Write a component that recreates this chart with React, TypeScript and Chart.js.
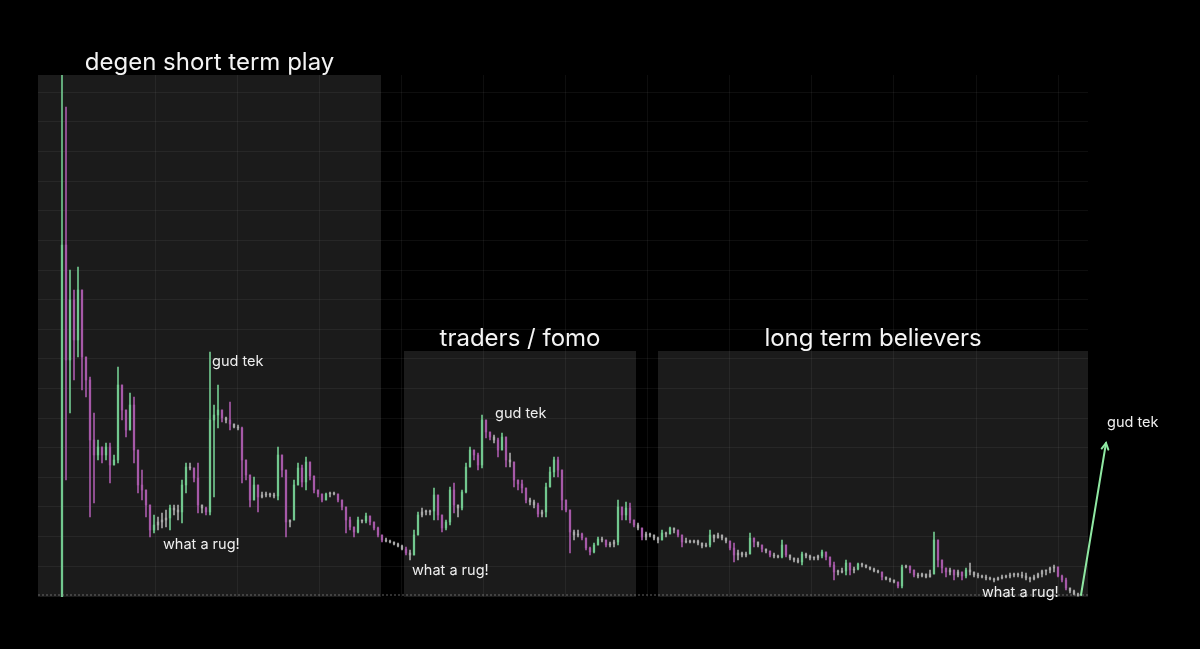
import React, { useEffect, useRef } from "react";
import { Chart, registerables } from "chart.js";

Chart.register(...registerables);

// ---- price data (one candle per period) ----
const highs: number[] = [
  52.2, 49.0, 32.7, 30.7, 33.0, 29.7, 23.7, 22.0, 18.4, 15.7,
  15.0, 15.4, 15.4, 14.2, 23.0, 21.0, 18.0, 20.4, 20.0, 13.7,
  12.7, 10.7, 8.7, 8.2, 8.0, 8.4, 8.7, 9.2, 9.2, 9.2,
  11.7, 13.4, 13.4, 12.9, 13.4, 9.2, 9.0, 24.5, 19.2, 21.2,
  18.2, 18.0, 19.5, 17.2, 17.2, 17.0, 13.4, 11.0, 12.0, 10.7,
  10.5, 10.5, 10.4, 10.4, 15.0, 13.7, 12.0, 7.7, 11.7, 13.4,
  13.2, 14.0, 13.0, 11.7, 10.7, 10.0, 10.4, 10.5, 10.5, 10.2,
  9.7, 8.4, 8.0, 7.0, 8.0, 7.7, 8.4, 7.9, 7.4, 7.0,
  6.0, 5.9, 5.7, 5.5, 5.4, 5.2, 5.0, 4.7, 6.7, 8.5,
  8.9, 8.7, 8.7, 10.9, 10.2, 8.0, 7.7, 11.0, 11.4, 9.0,
  10.7, 13.4, 15.0, 14.7, 14.4, 18.2, 17.7, 16.5, 16.2, 15.9,
  16.4, 15.7, 14.4, 13.4, 11.7, 11.7, 10.7, 9.9, 9.7, 9.4,
  8.7, 11.4, 13.0, 14.0, 14.0, 12.7, 9.0, 8.7, 6.7, 6.7,
  6.4, 5.7, 5.0, 5.4, 6.0, 6.0, 5.5, 5.5, 5.7, 9.7,
  9.0, 9.5, 9.4, 7.7, 7.4, 6.9, 6.5, 6.4, 6.2, 6.0,
  6.7, 6.5, 7.0, 6.9, 6.7, 5.9, 5.9, 5.7, 5.7, 5.7,
  5.4, 5.4, 6.7, 6.0, 6.4, 6.0, 5.9, 5.5, 5.4, 4.7,
  4.5, 4.5, 6.4, 5.9, 5.5, 5.0, 4.7, 4.5, 4.4, 4.2,
  5.7, 4.5, 4.0, 3.9, 3.9, 4.5, 4.4, 4.2, 4.0, 4.2,
  4.7, 4.4, 3.9, 3.5, 2.7, 2.9, 3.7, 2.9, 3.0, 3.4,
  3.4, 3.2, 3.0, 2.9, 2.7, 2.4, 2.0, 1.9, 1.7, 1.5,
  3.2, 3.2, 3.0, 2.7, 2.4, 2.4, 2.2, 2.7, 6.5, 5.7,
  3.7, 2.9, 2.9, 2.7, 2.7, 2.4, 2.9, 3.4, 2.5, 2.4,
  2.2, 2.2, 2.0, 1.9, 2.0, 2.2, 2.2, 2.4, 2.4, 2.4,
  2.5, 2.4, 2.0, 2.2, 2.4, 2.7, 2.7, 3.0, 3.2, 2.9,
  2.2, 1.9, 0.9, 0.7, 0.4,
];

const lows: number[] = [
  0.0, 11.7, 18.4, 21.7, 24.0, 20.7, 20.0, 8.0, 9.4, 13.7,
  13.4, 13.7, 11.4, 13.2, 13.4, 17.7, 16.0, 16.7, 13.4, 10.4,
  9.7, 8.0, 6.0, 6.4, 6.7, 6.9, 7.0, 6.7, 8.2, 7.7,
  7.4, 10.4, 12.7, 11.5, 8.4, 8.4, 8.2, 8.2, 10.0, 16.9,
  17.5, 17.4, 16.7, 16.9, 16.7, 11.4, 11.7, 9.0, 10.0, 8.5,
  9.9, 10.0, 10.0, 9.9, 9.7, 12.0, 6.0, 7.0, 7.7, 11.4,
  11.0, 10.7, 11.7, 10.4, 10.0, 9.5, 9.7, 10.0, 10.2, 9.5,
  8.7, 6.4, 6.7, 6.0, 6.4, 7.4, 7.4, 7.2, 6.7, 6.0,
  5.5, 5.5, 5.4, 5.2, 5.0, 4.7, 4.2, 3.7, 4.7, 6.4,
  8.0, 8.2, 8.2, 7.7, 7.7, 6.5, 6.7, 7.2, 8.4, 8.0,
  8.7, 10.4, 13.0, 13.7, 12.7, 12.9, 15.9, 15.7, 15.4, 14.0,
  14.7, 13.0, 13.0, 11.0, 10.7, 10.4, 9.4, 9.2, 8.9, 8.0,
  8.0, 8.0, 11.0, 12.0, 12.0, 8.7, 8.5, 4.4, 5.7, 6.0,
  5.7, 4.7, 4.2, 4.4, 5.4, 5.5, 5.0, 5.0, 5.0, 5.2,
  7.7, 7.7, 7.4, 7.0, 6.7, 5.7, 5.7, 6.0, 5.7, 5.4,
  5.7, 6.0, 6.4, 6.4, 6.0, 5.0, 5.4, 5.4, 5.4, 5.2,
  4.9, 5.0, 5.0, 5.5, 5.9, 5.7, 5.4, 4.7, 3.5, 3.7,
  4.0, 4.0, 4.4, 5.0, 5.0, 4.5, 4.4, 4.0, 3.9, 3.9,
  3.9, 4.0, 3.7, 3.5, 3.4, 3.2, 3.9, 3.7, 3.7, 3.7,
  3.9, 3.7, 3.0, 1.7, 2.2, 2.4, 2.2, 2.2, 2.4, 2.7,
  3.0, 2.9, 2.7, 2.5, 2.4, 1.7, 1.7, 1.5, 1.4, 0.9,
  0.9, 2.9, 2.4, 2.0, 1.9, 2.0, 1.9, 2.0, 2.4, 3.0,
  2.4, 2.0, 2.2, 1.7, 2.0, 1.7, 1.9, 2.2, 2.0, 1.9,
  1.9, 1.7, 1.7, 1.5, 1.7, 1.8, 1.9, 1.9, 2.0, 2.0,
  1.9, 1.7, 1.5, 1.7, 1.9, 2.0, 2.2, 2.4, 2.5, 2.0,
  1.5, 0.7, 0.4, 0.2, 0.1,
];

const closes: number[] = [
  35.2, 23.7, 29.7, 25.7, 30.7, 24.0, 21.7, 15.7, 14.2, 15.0,
  14.2, 15.0, 13.2, 13.7, 21.2, 18.7, 16.7, 19.2, 14.7, 11.2,
  10.7, 9.2, 6.7, 7.2, 7.5, 7.7, 7.9, 8.9, 8.7, 8.5,
  11.2, 13.0, 12.9, 11.9, 9.2, 8.9, 8.5, 17.7, 18.2, 18.7,
  17.9, 17.7, 17.3, 17.0, 16.9, 13.7, 12.2, 9.7, 11.2, 10.0,
  10.2, 10.3, 10.2, 10.1, 14.2, 12.7, 7.5, 7.7, 11.2, 12.9,
  11.5, 13.5, 12.1, 10.7, 10.3, 9.7, 10.3, 10.4, 10.3, 9.7,
  9.0, 7.7, 7.0, 6.5, 7.7, 7.6, 8.1, 7.5, 6.9, 6.2,
  5.7, 5.6, 5.5, 5.3, 5.1, 4.8, 4.4, 4.2, 6.2, 8.2,
  8.5, 8.5, 8.6, 10.2, 8.2, 6.9, 7.5, 10.7, 9.2, 8.9,
  10.5, 13.0, 14.7, 14.2, 13.2, 17.7, 16.5, 16.0, 15.7, 14.7,
  16.0, 13.7, 13.5, 11.7, 11.3, 10.9, 9.7, 9.5, 9.2, 8.3,
  8.5, 11.0, 12.5, 13.7, 12.7, 9.7, 8.7, 6.5, 6.2, 6.3,
  5.9, 4.9, 4.5, 5.2, 5.8, 5.7, 5.2, 5.3, 5.5, 9.0,
  8.2, 8.9, 7.7, 7.2, 6.9, 6.0, 6.3, 6.2, 5.9, 5.7,
  6.4, 6.3, 6.9, 6.7, 6.2, 5.5, 5.6, 5.5, 5.6, 5.4,
  5.1, 5.2, 6.2, 5.9, 6.2, 5.9, 5.6, 4.9, 4.2, 4.4,
  4.2, 4.3, 5.9, 5.5, 5.2, 4.8, 4.6, 4.2, 4.1, 4.0,
  5.2, 4.2, 3.9, 3.7, 3.5, 4.3, 4.1, 3.9, 3.9, 4.1,
  4.5, 4.0, 3.2, 2.5, 2.5, 2.6, 3.4, 2.7, 2.8, 3.3,
  3.2, 3.0, 2.8, 2.6, 2.5, 2.0, 1.8, 1.7, 1.5, 1.1,
  3.0, 3.1, 2.7, 2.2, 2.1, 2.3, 2.0, 2.3, 5.7, 3.7,
  2.9, 2.5, 2.7, 2.2, 2.5, 2.1, 2.7, 2.5, 2.2, 2.1,
  2.0, 1.9, 1.8, 1.7, 1.9, 2.0, 2.1, 2.2, 2.3, 2.2,
  2.1, 1.9, 1.8, 2.0, 2.3, 2.6, 2.7, 2.9, 3.0, 2.1,
  1.7, 0.9, 0.6, 0.3, 0.1,
];

// ---- shaded phases: start period, end period, top price, title ----
const phaseStarts: number[] = [-6, 85.5, 149];
const phaseEnds: number[] = [79.75, 143.5, 256.5];
const phaseTops: number[] = [52.2, 24.6, 24.6];
const phaseTitles: string[] = ["degen short term play", "traders / fomo", "long term believers"];

// ---- annotations: text, period, price (left / baseline) ----
const noteTexts: string[] = ["gud tek", "what a rug!", "gud tek", "what a rug!", "gud tek", "what a rug!"];
const notePeriods: number[] = [37.5, 25.25, 108.25, 87.5, 261.25, 230];
const notePrices: number[] = [23.1, 4.8, 17.9, 2.2, 17.0, 0.0];

// arrow: from [period, price] to [period, price]
const arrowFrom: number[] = [254.75, 0.2];
const arrowTo: number[] = [261, 15.4];

// grid ticks (period / price)
const xGridStart = 23.25;
const xGridStep = 20.525;
const yGridStart = 0.14;
const yGridStep = 2.96;

const UP = "#72c88f";
const DOWN = "#a659a8";
const FLAT = "#a8a8a8";

export default function App() {
  const ref = useRef<HTMLCanvasElement | null>(null);

  useEffect(() => {
    if (!ref.current) return;
    const n = closes.length;
    const opens = closes.map((c, i) => (i === 0 ? lows[0] : closes[i - 1]));
    const colors = closes.map((c, i) => {
      const d = c - opens[i];
      if (d > 0.35) return UP;
      if (d < -0.35) return DOWN;
      return FLAT;
    });
    const wickData = closes.map((c, i) => ({
      x: i,
      y: [Math.min(lows[i], opens[i], c), Math.max(highs[i], opens[i], c)],
    }));
    const bodyData = closes.map((c, i) => ({ x: i, y: [opens[i], c] }));

    const overlay = {
      id: "overlay",
      beforeDraw(chart: any) {
        const { ctx, scales } = chart;
        const xs = scales.x, ys = scales.y;
        ctx.save();
        ctx.fillStyle = "#1b1b1b";
        for (let k = 0; k < phaseStarts.length; k++) {
          const x0 = xs.getPixelForValue(phaseStarts[k]);
          const x1 = xs.getPixelForValue(phaseEnds[k]);
          const y0 = ys.getPixelForValue(phaseTops[k]);
          const y1 = ys.getPixelForValue(0);
          ctx.fillRect(x0, y0, x1 - x0, y1 - y0);
        }
        ctx.restore();
      },
      afterDraw(chart: any) {
        const { ctx, scales, chartArea } = chart;
        const xs = scales.x, ys = scales.y;
        ctx.save();
        // last price dashed line
        const yl = ys.getPixelForValue(closes[n - 1]) - 1;
        ctx.strokeStyle = "rgba(140,140,140,0.7)";
        ctx.lineWidth = 1;
        ctx.setLineDash([2, 2]);
        ctx.beginPath();
        ctx.moveTo(chartArea.left, yl);
        ctx.lineTo(chartArea.right, yl);
        ctx.stroke();
        ctx.setLineDash([]);

        // titles
        ctx.fillStyle = "#f4f4f4";
        ctx.font = "400 24px Inter, 'Open Sans', sans-serif";
        ctx.textAlign = "center";
        ctx.textBaseline = "alphabetic";
        for (let k = 0; k < phaseTitles.length; k++) {
          const cx = (xs.getPixelForValue(phaseStarts[k]) + xs.getPixelForValue(phaseEnds[k])) / 2;
          const ty = ys.getPixelForValue(phaseTops[k]) - 5;
          ctx.fillText(phaseTitles[k], cx, ty);
        }
        // notes
        ctx.font = "400 14.5px Inter, 'Open Sans', sans-serif";
        ctx.textAlign = "left";
        ctx.fillStyle = "#eeeeee";
        for (let k = 0; k < noteTexts.length; k++) {
          ctx.fillText(noteTexts[k], xs.getPixelForValue(notePeriods[k]), ys.getPixelForValue(notePrices[k]));
        }
        // arrow
        const ax0 = xs.getPixelForValue(arrowFrom[0]);
        const ay0 = ys.getPixelForValue(arrowFrom[1]);
        const ax1 = xs.getPixelForValue(arrowTo[0]);
        const ay1 = ys.getPixelForValue(arrowTo[1]);
        ctx.strokeStyle = "#8fe8a2";
        ctx.lineWidth = 2;
        ctx.lineCap = "round";
        ctx.beginPath();
        ctx.moveTo(ax0, ay0);
        ctx.lineTo(ax1, ay1);
        ctx.stroke();
        const ang = Math.atan2(ay1 - ay0, ax1 - ax0);
        const hl = 7;
        ctx.beginPath();
        ctx.moveTo(ax1 - hl * Math.cos(ang - 0.5), ay1 - hl * Math.sin(ang - 0.5));
        ctx.lineTo(ax1, ay1);
        ctx.lineTo(ax1 - hl * Math.cos(ang + 0.5), ay1 - hl * Math.sin(ang + 0.5));
        ctx.stroke();
        ctx.restore();
      },
    };

    const chart = new Chart(ref.current, {
      type: "bar",
      data: {
        datasets: [
          {
            label: "body",
            data: bodyData as any,
            backgroundColor: colors,
            barThickness: 1.6,
            minBarLength: 1,
            grouped: false,
            borderWidth: 0,
            order: 1,
          } as any,
          {
            label: "wick",
            data: wickData as any,
            backgroundColor: colors,
            barThickness: 1,
            minBarLength: 1,
            grouped: false,
            borderWidth: 0,
            order: 2,
          } as any,
        ],
      },
      options: {
        responsive: false,
        animation: false,
        events: [],
        layout: { padding: { left: 38, right: 112, top: 75, bottom: 52 } },
        scales: {
          x: {
            type: "linear",
            min: -6,
            max: 256.5,
            offset: false,
            ticks: { display: false },
            grid: { color: "rgba(255,255,255,0.055)", drawTicks: false, offset: false },
            border: { display: false },
            afterBuildTicks: (axis: any) => {
              const t: any[] = [];
              for (let v = xGridStart; v < 256.5; v += xGridStep) t.push({ value: v });
              axis.ticks = t;
            },
            afterFit: (s: any) => {
              s.height = 0;
            },
          },
          y: {
            type: "linear",
            min: 0,
            max: 52.2,
            ticks: { display: false },
            grid: { color: "rgba(255,255,255,0.055)", drawTicks: false },
            border: { display: false },
            afterBuildTicks: (axis: any) => {
              const t: any[] = [];
              for (let v = yGridStart + yGridStep; v < 52.2; v += yGridStep) t.push({ value: v });
              axis.ticks = t;
            },
            afterFit: (s: any) => {
              s.width = 0;
            },
          },
        },
        plugins: { legend: { display: false }, tooltip: { enabled: false } },
      },
      plugins: [overlay],
    });
    return () => chart.destroy();
  }, []);

  return (
    <div style={{ position: "fixed", left: 0, top: 0, width: 1200, height: 649, background: "#000" }}>
      <canvas ref={ref} width={1200} height={649} style={{ display: "block", width: 1200, height: 649 }} />
    </div>
  );
}
